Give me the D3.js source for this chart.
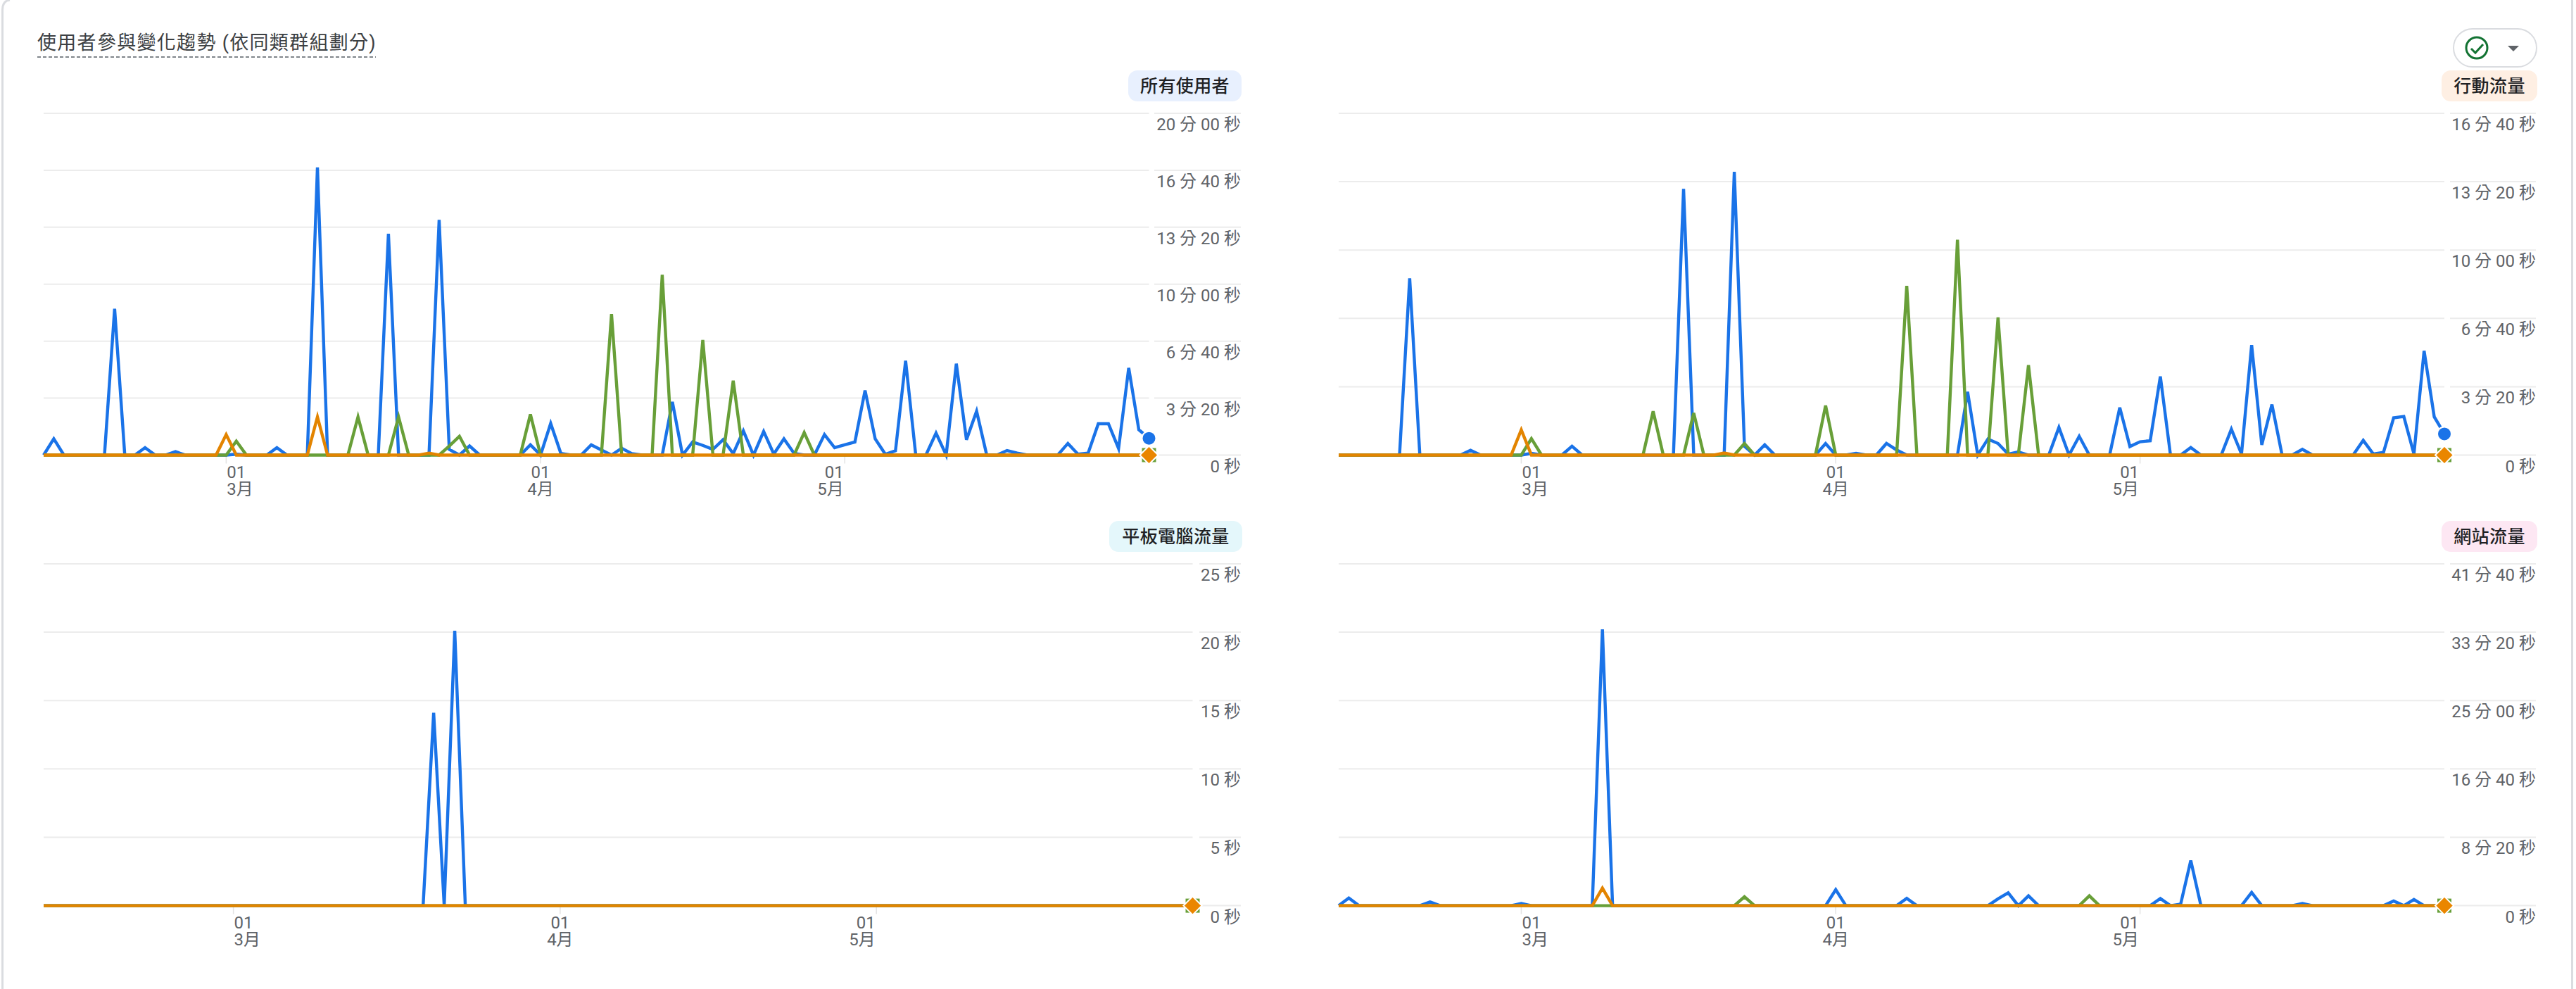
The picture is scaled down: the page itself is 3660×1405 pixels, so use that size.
<!DOCTYPE html>
<html><head><meta charset="utf-8">
<style>
html,body{margin:0;padding:0;background:#fff}
svg{display:block}
text{font-family:Roboto,"Noto Sans CJK TC",sans-serif}
</style>
<script src="https://d3js.org/d3.v7.min.js"></script>
</head><body>
<svg id="c" width="3660" height="1405"></svg>
<script>
const titleText = "使用者參與變化趨勢 (依同類群組劃分)";
const startDate = Date.UTC(2025,1,11);
const endDate = Date.UTC(2025,4,31);
const monthTicks = [Date.UTC(2025,2,1),Date.UTC(2025,3,1),Date.UTC(2025,4,1)];
const monthLabels = ["3月","4月","5月"];
const dayLabels = ["01","01","01"];

const allBlue = [
0,57,0,0,0,0,0,514,0,0,
26,0,0,12,0,0,0,0,0,3,
0,0,0,26,0,0,0,1010,0,0,
0,0,0,0,777,0,0,0,0,826,
20,0,32,0,0,0,0,0,36,0,
111,6,0,0,36,18,0,24,5,0,
0,0,187,0,46,34,20,54,5,85,
0,83,4,57,6,0,0,72,26,36,
46,227,57,3,15,331,0,0,77,0,
321,54,154,0,0,16,7,0,0,0,
0,41,3,7,110,110,23,306,89,59];
const allGreen = [
0,0,0,0,0,0,0,0,0,0,
0,0,0,0,0,0,0,0,0,49,
0,0,0,0,0,0,0,0,0,0,
0,134,0,0,0,134,0,0,0,0,
32,66,0,0,0,0,0,0,143,0,
0,0,0,0,0,0,495,0,0,0,
0,633,0,0,0,404,0,0,261,0,
0,0,0,0,0,79,0,0,0,0,
0,0,0,0,0,0,0,0,0,0,
0,0,0,0,0,0,0,0,0,0,
0,0,0,0,0,0,0,0,0,0];
const allOrange = [
0,0,0,0,0,0,0,0,0,0,
0,0,0,0,0,0,0,0,72,0,
0,0,0,0,0,0,0,134,0,0,
0,0,0,0,0,0,0,0,7,0,
0,0,0,0,0,0,0,0,0,0,
0,0,0,0,0,0,0,0,0,0,
0,0,0,0,0,0,0,0,0,0,
0,0,0,0,0,0,0,0,0,0,
0,0,0,0,0,0,0,0,0,0,
0,0,0,0,0,0,0,0,0,0,
0,0,0,0,0,0,0,0,0,0];

const mobileBlue = [
0,0,0,0,0,0,0,517,0,0,
0,0,0,14,0,0,0,0,0,5,
0,0,0,26,0,0,0,0,0,0,
0,0,0,0,779,0,0,0,0,829,
26,0,30,0,0,0,0,0,34,0,
0,5,0,0,34,15,0,0,0,0,
0,0,185,0,47,34,3,9,0,0,
0,81,0,55,0,0,0,139,25,39,
42,230,0,0,22,0,0,0,76,3,
322,30,148,0,0,17,0,0,0,0,
0,43,3,8,109,113,3,305,112,62];
const mobileGreen = [
0,0,0,0,0,0,0,0,0,0,
0,0,0,0,0,0,0,0,0,48,
0,0,0,0,0,0,0,0,0,0,
0,128,0,0,0,123,0,0,0,0,
34,0,0,0,0,0,0,0,145,0,
0,0,0,0,0,0,495,0,0,0,
0,630,0,0,0,403,0,0,263,0,
0,0,0,0,0,0,0,0,0,0,
0,0,0,0,0,0,0,0,0,0,
0,0,0,0,0,0,0,0,0,0,
0,0,0,0,0,0,0,0,0,0];
const mobileOrange = [
0,0,0,0,0,0,0,0,0,0,
0,0,0,0,0,0,0,0,74,0,
0,0,0,0,0,0,0,0,0,0,
0,0,0,0,0,0,0,0,6,0,
0,0,0,0,0,0,0,0,0,0,
0,0,0,0,0,0,0,0,0,0,
0,0,0,0,0,0,0,0,0,0,
0,0,0,0,0,0,0,0,0,0,
0,0,0,0,0,0,0,0,0,0,
0,0,0,0,0,0,0,0,0,0,
0,0,0,0,0,0,0,0,0,0];

const tabletBlue = [
0,0,0,0,0,0,0,0,0,0,
0,0,0,0,0,0,0,0,0,0,
0,0,0,0,0,0,0,0,0,0,
0,0,0,0,0,0,0,14.1,0,20.1,
0,0,0,0,0,0,0,0,0,0,
0,0,0,0,0,0,0,0,0,0,
0,0,0,0,0,0,0,0,0,0,
0,0,0,0,0,0,0,0,0,0,
0,0,0,0,0,0,0,0,0,0,
0,0,0,0,0,0,0,0,0,0,
0,0,0,0,0,0,0,0,0,0];
const tabletGreen = [
0,0,0,0,0,0,0,0,0,0,
0,0,0,0,0,0,0,0,0,0,
0,0,0,0,0,0,0,0,0,0,
0,0,0,0,0,0,0,0,0,0,
0,0,0,0,0,0,0,0,0,0,
0,0,0,0,0,0,0,0,0,0,
0,0,0,0,0,0,0,0,0,0,
0,0,0,0,0,0,0,0,0,0,
0,0,0,0,0,0,0,0,0,0,
0,0,0,0,0,0,0,0,0,0,
0,0,0,0,0,0,0,0,0,0];
const tabletOrange = [
0,0,0,0,0,0,0,0,0,0,
0,0,0,0,0,0,0,0,0,0,
0,0,0,0,0,0,0,0,0,0,
0,0,0,0,0,0,0,0,0,0,
0,0,0,0,0,0,0,0,0,0,
0,0,0,0,0,0,0,0,0,0,
0,0,0,0,0,0,0,0,0,0,
0,0,0,0,0,0,0,0,0,0,
0,0,0,0,0,0,0,0,0,0,
0,0,0,0,0,0,0,0,0,0,
0,0,0,0,0,0,0,0,0,0];

const webBlue = [
0,56,0,0,0,0,0,0,0,27,
0,0,0,0,0,0,0,0,16,0,
0,0,0,0,0,0,2021,0,0,0,
0,0,0,0,0,0,0,0,0,0,
0,0,0,0,0,0,0,0,0,117,
0,0,0,0,0,0,54,0,0,0,
0,0,0,0,0,50,94,0,72,0,
0,0,0,0,0,0,0,0,0,0,
0,52,0,11,330,0,0,0,0,0,
97,0,0,0,0,16,0,0,0,0,
0,0,0,0,34,0,45,0,0,0];
const webGreen = [
0,0,0,0,0,0,0,0,0,0,
0,0,0,0,0,0,0,0,0,0,
0,0,0,0,0,0,0,0,0,0,
0,0,0,0,0,0,0,0,0,0,
65,0,0,0,0,0,0,0,0,0,
0,0,0,0,0,0,0,0,0,0,
0,0,0,0,0,0,0,0,0,0,
0,0,0,0,72,0,0,0,0,0,
0,0,0,0,0,0,0,0,0,0,
0,0,0,0,0,0,0,0,0,0,
0,0,0,0,0,0,0,0,0,0];
const webOrange = [
0,0,0,0,0,0,0,0,0,0,
0,0,0,0,0,0,0,0,0,0,
0,0,0,0,0,0,128,0,0,0,
0,0,0,0,0,0,0,0,0,0,
0,0,0,0,0,0,0,0,0,0,
0,0,0,0,0,0,0,0,0,0,
0,0,0,0,0,0,0,0,0,0,
0,0,0,0,0,0,0,0,0,0,
0,0,0,0,0,0,0,0,0,0,
0,0,0,0,0,0,0,0,0,0,
0,0,0,0,0,0,0,0,0,0];

const allTicks = [0,200,400,600,800,1000,1200];
const allTickLabels = ["0 秒","3 分 20 秒","6 分 40 秒","10 分 00 秒","13 分 20 秒","16 分 40 秒","20 分 00 秒"];
const mobileTicks = [0,200,400,600,800,1000];
const mobileTickLabels = ["0 秒","3 分 20 秒","6 分 40 秒","10 分 00 秒","13 分 20 秒","16 分 40 秒"];
const tabletTicks = [0,5,10,15,20,25];
const tabletTickLabels = ["0 秒","5 秒","10 秒","15 秒","20 秒","25 秒"];
const webTicks = [0,500,1000,1500,2000,2500];
const webTickLabels = ["0 秒","8 分 20 秒","16 分 40 秒","25 分 00 秒","33 分 20 秒","41 分 40 秒"];

const COL = {blue:"#1a73e8",green:"#689f38",orange:"#e38400",grid:"#ececec",tick:"#5f6368"};
const panels = [
 {name:"所有使用者",bg:"#e8f0fe",blue:allBlue,green:allGreen,orange:allOrange,ticks:allTicks,labels:allTickLabels,
  x0:62,x1:1632.5,gx0:1640,gx1:1763,top:161,zero:646.5,pill:[1603,1764,100,144]},
 {name:"行動流量",bg:"#feefe3",blue:mobileBlue,green:mobileGreen,orange:mobileOrange,ticks:mobileTicks,labels:mobileTickLabels,
  x0:1902,x1:3473,gx0:3481,gx1:3603,top:161,zero:646.5,pill:[3469,3605,100,144]},
 {name:"平板電腦流量",bg:"#e4f7fb",blue:tabletBlue,green:tabletGreen,orange:tabletOrange,ticks:tabletTicks,labels:tabletTickLabels,
  x0:62,x1:1694.5,gx0:1704,gx1:1763,top:801,zero:1286.6,pill:[1576,1765,740,784]},
 {name:"網站流量",bg:"#fde7f3",blue:webBlue,green:webGreen,orange:webOrange,ticks:webTicks,labels:webTickLabels,
  x0:1902,x1:3473,gx0:3481,gx1:3603,top:801,zero:1286.6,pill:[3469,3605,740,784]}
];

const svg = d3.select("#c");
// card border
svg.append("path").attr("d","M3.5,1405V14Q3.5,1 14,0").attr("fill","none").attr("stroke","#dadce0").attr("stroke-width",3);
svg.append("path").attr("d","M3654.5,0V1405").attr("fill","none").attr("stroke","#dadce0").attr("stroke-width",3);

// title
svg.append("text").attr("x",53).attr("y",70).attr("font-size",27).attr("letter-spacing",1.3).attr("fill","#3c4043").text(titleText);
svg.append("line").attr("x1",53).attr("x2",534).attr("y1",81).attr("y2",81)
  .attr("stroke","#80868b").attr("stroke-width",2).attr("stroke-dasharray","5 3");

// top-right button
const btn = svg.append("g");
btn.append("rect").attr("x",3486).attr("y",41).attr("width",118).attr("height",54).attr("rx",27)
  .attr("fill","#fff").attr("stroke","#dadce0").attr("stroke-width",2);
btn.append("circle").attr("cx",3519).attr("cy",68).attr("r",15).attr("fill","none").attr("stroke","#137333").attr("stroke-width",3);
btn.append("path").attr("d","M3511,69L3517,75L3528,63").attr("fill","none").attr("stroke","#137333").attr("stroke-width",3);
btn.append("path").attr("d","M3563,65H3579L3571,73Z").attr("fill","#5f6368");

const monthAlign = [
  {anchor:"start",dx:1},
  {anchor:"middle",dx:0},
  {anchor:"end",dx:-1.5}
];

panels.forEach(p=>{
  const g = svg.append("g");
  const x = d3.scaleUtc().domain([startDate,endDate]).range([p.x0,p.x1]);
  const y = d3.scaleLinear().domain([0,p.ticks[p.ticks.length-1]]).range([p.zero,p.top]);
  const dates = d3.utcDay.range(startDate,endDate+1);

  // grid
  g.append("g").selectAll("line").data(p.ticks).join("line")
    .attr("x1",p.x0).attr("x2",p.x1).attr("y1",d=>y(d)).attr("y2",d=>y(d))
    .attr("stroke",COL.grid).attr("stroke-width",2);
  g.append("g").selectAll("line").data(p.ticks).join("line")
    .attr("x1",p.gx0).attr("x2",p.gx1).attr("y1",d=>y(d)).attr("y2",d=>y(d))
    .attr("stroke",COL.grid).attr("stroke-width",2);

  // y labels
  g.append("g").selectAll("text").data(p.ticks).join("text")
    .attr("x",p.gx1).attr("y",d=>y(d)+24).attr("text-anchor","end")
    .attr("font-size",24).attr("fill",COL.tick)
    .text((d,i)=>p.labels[i]);

  // x ticks
  g.append("g").selectAll("line").data(monthTicks).join("line")
    .attr("x1",d=>x(d)).attr("x2",d=>x(d)).attr("y1",p.zero).attr("y2",p.zero+12)
    .attr("stroke","#e3e3e3").attr("stroke-width",1.5);
  const xl = g.append("g").selectAll("g").data(monthTicks).join("g");
  xl.append("text").attr("x",(d,i)=>x(d)+monthAlign[i].dx).attr("y",p.zero+32)
    .attr("text-anchor",(d,i)=>monthAlign[i].anchor).attr("font-size",24).attr("fill",COL.tick)
    .text((d,i)=>dayLabels[i]);
  xl.append("text").attr("x",(d,i)=>x(d)+monthAlign[i].dx).attr("y",p.zero+56)
    .attr("text-anchor",(d,i)=>monthAlign[i].anchor).attr("font-size",24).attr("fill",COL.tick)
    .text((d,i)=>monthLabels[i]);

  // pill
  g.append("rect").attr("x",p.pill[0]).attr("y",p.pill[2]).attr("width",p.pill[1]-p.pill[0]).attr("height",p.pill[3]-p.pill[2])
    .attr("rx",13).attr("fill",p.bg);
  g.append("text").attr("x",(p.pill[0]+p.pill[1])/2).attr("y",p.pill[2]+31).attr("text-anchor","middle")
    .attr("font-size",25).attr("font-weight",500).attr("letter-spacing",0.4).attr("fill","#202124").text(p.name);

  // series
  const line = d3.line().x((d,i)=>x(dates[i])).y(d=>y(d));
  [["blue",p.blue,4.4],["green",p.green,4.4],["orange",p.orange,4.4]].forEach(([c,vals,w])=>{
    g.append("path").datum(vals).attr("d",line).attr("fill","none")
      .attr("stroke",COL[c]).attr("stroke-width",w).attr("stroke-linejoin","miter");
  });

  // end markers
  const lastX = x(endDate), last = a=>a[a.length-1];
  g.append("circle").attr("cx",lastX).attr("cy",y(last(p.blue))).attr("r",10)
    .attr("fill",COL.blue).attr("stroke","#fff").attr("stroke-width",2);
  const gy = y(last(p.green));
  g.append("rect").attr("x",lastX-10).attr("y",gy-10).attr("width",20).attr("height",20).attr("fill",COL.green);
  const oy = y(last(p.orange));
  g.append("path").attr("transform",`translate(${lastX},${oy})`).attr("d","M0,-13L13,0L0,13L-13,0Z")
    .attr("fill","#ea8600").attr("stroke","#fff").attr("stroke-width",2);
});
</script>
</body></html>
